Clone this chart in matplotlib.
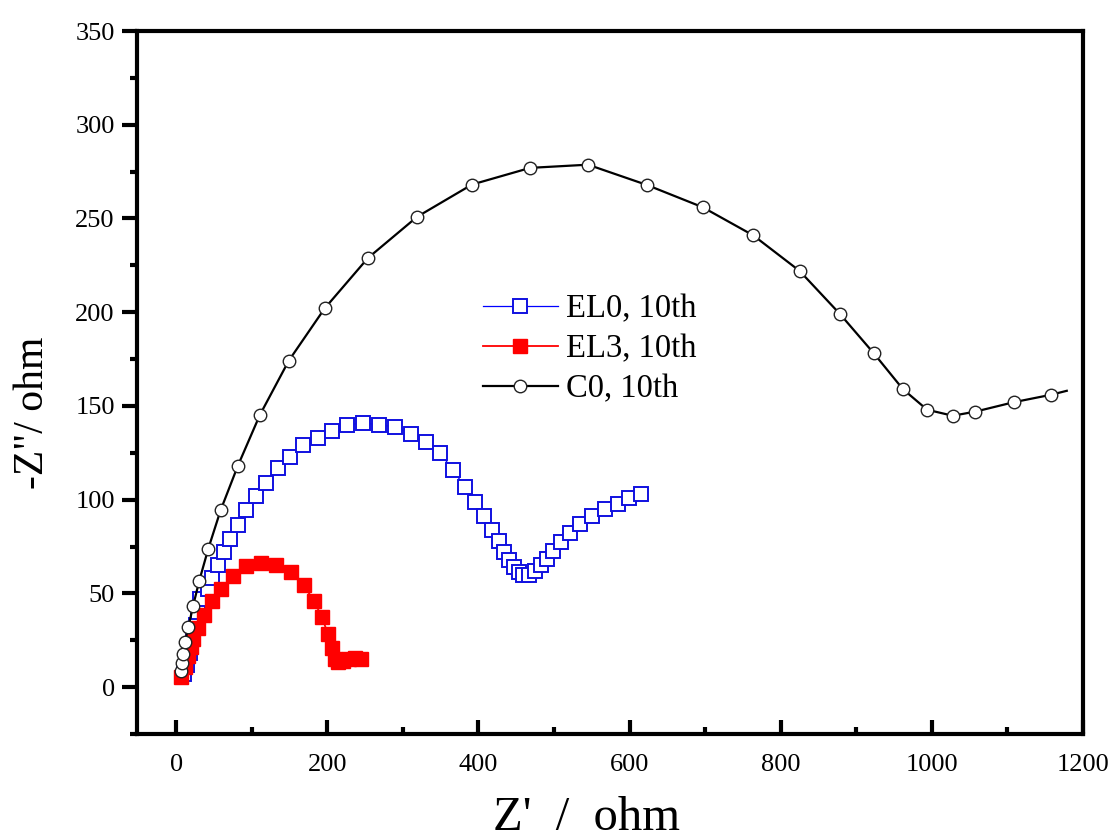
import matplotlib
matplotlib.use("Agg")
import matplotlib.pyplot as plt
from matplotlib.ticker import MultipleLocator

plt.rcParams['font.family'] = ['Liberation Serif', 'DejaVu Serif']
plt.rcParams['mathtext.fontset'] = 'stix'

# ---- data ----
el0_x = [10, 14, 18, 22, 26, 29, 31.4, 42.0, 47.8, 55.2, 62.7, 71.0, 81.2, 92.1, 105.3, 119.1,
         134.4, 150.2, 168.1, 187.1, 206.6, 226.7, 247.8, 268.6, 289.8, 310.5, 330.0, 348.8,
         366.3, 381.8, 395.6, 407.9, 417.6, 426.7, 434.1, 440.9, 447.1, 453.1, 459.1, 467.1,
         475.0, 482.9, 490.8, 499.3, 509.8, 520.8, 534.0, 549.8, 567.4, 584.5, 599.6, 614.5]
el0_y = [7, 12, 18, 26, 33, 40, 46.8, 52.5, 58.4, 65.4, 72.2, 79.1, 86.7, 94.3, 102.0, 109.1,
         116.9, 122.7, 129.0, 132.8, 136.9, 139.8, 141.0, 139.9, 138.9, 134.9, 131.0, 125.0,
         116.0, 106.8, 98.9, 91.1, 84.1, 77.9, 72.3, 67.8, 63.9, 61.3, 60.1, 60.1,
         62.2, 65.1, 68.6, 72.7, 77.5, 82.3, 87.1, 91.1, 94.8, 97.9, 100.7, 102.8]

el3_x = [5.9, 11.2, 15.8, 19.1, 22.7, 28.8, 36.7, 47.3, 59.7, 75.2, 92.8, 111.8, 132.4, 152.1,
         168.7, 182.6, 192.7, 201.1, 206.2, 210.3, 214.0, 221.0, 229.0, 237.0, 245.0]
el3_y = [5.7, 10.6, 16.5, 21.3, 25.5, 31.8, 38.4, 45.9, 52.6, 59.2, 64.4, 66.1, 65.3, 61.3,
         54.4, 45.9, 37.4, 28.2, 20.9, 14.9, 13.5, 13.8, 15.0, 15.6, 15.2]

c0_x = [5.9, 7.3, 9.0, 11.6, 16.1, 22.2, 30.6, 42.5, 58.7, 81.6, 110.6, 148.9, 196.4, 253.7,
        318.8, 391.4, 468.4, 545.0, 622.8, 696.8, 763.7, 825.1, 879.0, 923.4, 961.7, 993.8,
        1027.7, 1057.7, 1108.3, 1158.0, 1178.6]
c0_y = [8.7, 13.1, 17.9, 24.1, 31.9, 43.1, 56.9, 73.9, 94.3, 118.1, 145.1, 174.1, 202.0, 228.9,
        250.9, 268.1, 277.0, 278.7, 267.9, 256.0, 241.0, 222.0, 198.8, 178.0, 159.0, 148.0,
        144.8, 147.0, 152.0, 156.0, 158.1]

labels = ["EL0, 10th", "EL3, 10th", "C0, 10th"]
x_ticks = [0, 200, 400, 600, 800, 1000, 1200]
y_ticks = [0, 50, 100, 150, 200, 250, 300, 350]

fig = plt.figure(figsize=(11.13, 8.38), dpi=100)
ax = fig.add_axes([0.123, 0.124, 0.850, 0.839])

ax.plot(el0_x, el0_y, color='#0000ff', lw=0.9, marker='s', ms=10.5,
        mfc='white', mec='#1010e0', mew=1.4, label=labels[0], zorder=3)
ax.plot(el3_x, el3_y, color='#ff0000', lw=1.3, marker='s', ms=9.5,
        mfc='#ff0000', mec='#ff0000', mew=1.0, label=labels[1], zorder=4)
ax.plot(c0_x, c0_y, color='black', lw=1.6, marker='o', ms=9,
        mfc='white', mec='#222222', mew=1.0, markevery=list(range(len(c0_x) - 1)),
        label=labels[2], zorder=5)

ax.set_xlim(-52, 1200)
ax.set_ylim(-25, 350)
ax.set_xticks(x_ticks)
ax.set_yticks(y_ticks)
ax.xaxis.set_minor_locator(MultipleLocator(100))
ax.yaxis.set_minor_locator(MultipleLocator(25))

for s in ax.spines.values():
    s.set_linewidth(3.0)

ax.tick_params(axis='x', which='major', direction='in', length=10, width=3,
               labelsize=19, pad=14, top=False)
ax.tick_params(axis='x', which='minor', direction='in', length=5, width=3, top=False)
ax.tick_params(axis='y', which='major', direction='out', length=11, width=3,
               labelsize=19, pad=5, right=False)
ax.tick_params(axis='y', which='minor', direction='out', length=5, width=3, right=False)

ax.set_xlabel("Z'  /  ohm", fontsize=35)
ax.xaxis.set_label_coords(0.475, -0.088, transform=ax.transAxes)
ax.xaxis.label.set_va('top')
ax.set_ylabel('-Z"/ ohm', fontsize=30)
ax.yaxis.set_label_coords(-0.090, 0.457, transform=ax.transAxes)

leg = ax.legend(loc='upper left', bbox_to_anchor=(0.352, 0.645), frameon=False,
                fontsize=23.5, handlelength=2.3, handletextpad=0.25, labelspacing=0.3,
                borderaxespad=0)

fig.savefig("out.png", dpi=100)
